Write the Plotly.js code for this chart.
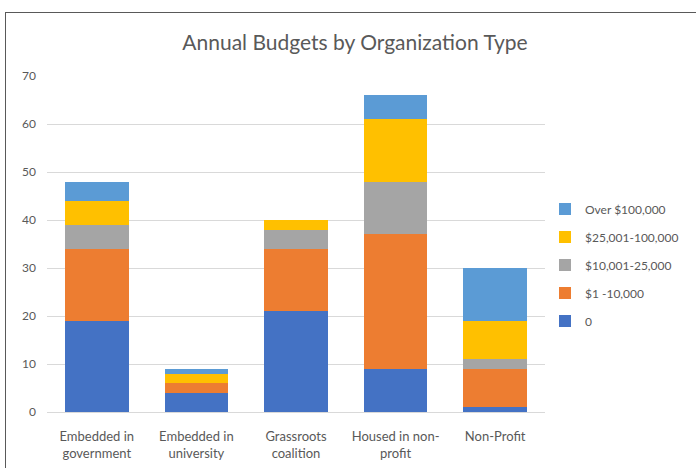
<!DOCTYPE html>
<html>
<head>
<meta charset="utf-8">
<script src="https://cdn.plot.ly/plotly-3.0.1.min.js"></script>
<style>
  html, body { margin: 0; padding: 0; width: 696px; height: 468px; overflow: hidden; background: #fff; }
  #chart { position: absolute; left: 0; top: 0; width: 696px; height: 468px; }
  #frame { position: absolute; left: 5px; top: 12px; width: 720px; height: 520px; border: 1px solid #595959; pointer-events: none; }
</style>
</head>
<body>
<div id="chart"></div>
<div id="frame"></div>
<script>
const categories = ["Embedded in government", "Embedded in university", "Grassroots coalition", "Housed in non-profit", "Non-Profit"];
const tickLabels = ["Embedded in<br>government", "Embedded in<br>university", "Grassroots<br>coalition", "Housed in non-<br>profit", "Non-Profit"];
const seriesNames = ["0", "$1 -10,000", "$10,001-25,000", "$25,001-100,000", "Over $100,000"];
const budget0 = [19, 4, 21, 9, 1];
const budget1to10k = [15, 2, 13, 28, 8];
const budget10to25k = [5, 0, 4, 11, 2];
const budget25to100k = [5, 2, 2, 13, 8];
const budgetOver100k = [4, 1, 0, 5, 11];
const colors = ["#4472C4", "#ED7D31", "#A5A5A5", "#FFC000", "#5B9BD5"];

const values = [budget0, budget1to10k, budget10to25k, budget25to100k, budgetOver100k];
const traces = values.map((v, i) => ({
  type: "bar",
  name: seriesNames[i],
  x: categories,
  y: v,
  legendgroup: "g" + i,
  legendrank: 1000 - i,
  marker: { color: colors[i], line: { width: 0 } },
  hoverinfo: "x+y+name"
}));

const layout = {
  width: 696,
  height: 468,
  barmode: "stack",
  bargap: 0.36,
  paper_bgcolor: "#ffffff",
  plot_bgcolor: "#ffffff",
  margin: { l: 47, r: 149, t: 76, b: 56, pad: 0 },
  font: { family: "Lato, 'Open Sans', sans-serif", color: "#595959", size: 12 },
  title: {
    text: "Annual Budgets by Organization Type",
    font: { family: "Lato, 'Open Sans', sans-serif", size: 21, color: "#595959" },
    x: 355 / 696, xanchor: "center", xref: "container",
    y: 1 - 43 / 468, yanchor: "middle", yref: "container"
  },
  xaxis: {
    type: "category",
    tickvals: categories,
    ticktext: tickLabels,
    showgrid: false,
    showline: true,
    linecolor: "#d9d9d9",
    linewidth: 1,
    ticks: "",
    ticklabelstandoff: 12,
    tickfont: { size: 13, color: "#595959" },
    fixedrange: true
  },
  yaxis: {
    range: [0, 70],
    dtick: 10,
    showgrid: true,
    gridcolor: "#d9d9d9",
    gridwidth: 1,
    zeroline: false,
    showline: false,
    ticks: "",
    ticklabelstandoff: 10,
    tickfont: { size: 12, color: "#595959" },
    fixedrange: true
  },
  legend: {
    x: 545 / 696, xref: "container", xanchor: "left",
    y: 0.4375, yanchor: "middle",
    traceorder: "grouped",
    tracegroupgap: 9,
    font: { size: 12, color: "#595959" },
    itemwidth: 30,
    bgcolor: "rgba(0,0,0,0)"
  },
  showlegend: true
};

Plotly.newPlot("chart", traces, layout, { displayModeBar: false, staticPlot: true });
</script>
</body>
</html>
